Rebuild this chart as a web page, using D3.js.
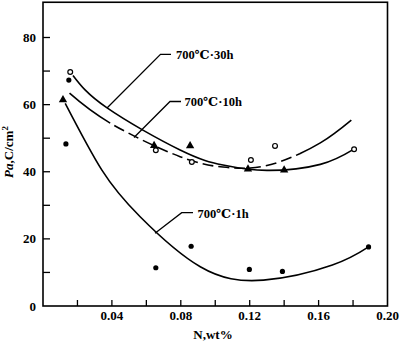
<!DOCTYPE html>
<html><head><meta charset="utf-8">
<script src="https://cdn.jsdelivr.net/npm/d3@7"></script>
<style>body{margin:0;background:#fff}svg{display:block}</style>
</head><body>
<svg id="c" width="400" height="343"></svg>
<script>
// Measured points
const pts1h = [[0.0133,48.3],[0.015,67.3],[0.0655,11.4],[0.086,17.8],[0.1198,10.9],[0.139,10.3],[0.189,17.6]];
const pts30h = [[0.0158,69.7],[0.0655,46.4],[0.0864,42.9],[0.1207,43.5],[0.1347,47.7],[0.1806,46.7]];
const pts10h = [[0.0116,61.4],[0.0645,47.8],[0.0854,47.7],[0.119,40.8],[0.140,40.5]];
// Fitted curves
const fit1h = [[0.0129,60.4],[0.0342,40.5],[0.0564,26.6],[0.0913,11.7],[0.128,7.7],[0.168,12.2],[0.189,17.6]];
const fit30h = [[0.0174,68.7],[0.037,59.1],[0.0796,46.5],[0.1045,42.0],[0.13,40.4],[0.161,42.2],[0.18,46.6]];
const fit10h = [[0.0154,63.4],[0.039,54.5],[0.0796,44.5],[0.1045,41.4],[0.12,41.1],[0.1377,43.0],[0.161,48.6],[0.179,55.4]];
const dashFrom = 0.039, dashTo = 0.149;
const xTicks = [0.02,0.04,0.06,0.08,0.10,0.12,0.14,0.16,0.18];
const xLabels = [0.04,0.08,0.12,0.16,0.20];
const yTicks = [10,20,30,40,50,60,70,80];
const yLabels = [0,20,40,60,80];

const svg = d3.select("#c");
const x = d3.scaleLinear().domain([0,0.2]).range([43,387.5]);
const y = d3.scaleLinear().domain([0,80]).range([306,37.5]);
const font = "'Liberation Serif','DejaVu Serif',serif";

svg.append("rect").attr("x",x(0)).attr("y",y(90.5)).attr("width",x(0.2)-x(0)).attr("height",y(0)-y(90.5))
  .attr("fill","none").attr("stroke","#000").attr("stroke-width",1.6);

svg.selectAll(".xt").data(xTicks).join("line").attr("x1",d=>x(d)).attr("x2",d=>x(d))
  .attr("y1",y(0)).attr("y2",y(0)-6).attr("stroke","#000").attr("stroke-width",1.3);
svg.selectAll(".yt").data(yTicks).join("line").attr("x1",x(0)).attr("x2",x(0)+7)
  .attr("y1",d=>y(d)).attr("y2",d=>y(d)).attr("stroke","#000").attr("stroke-width",1.3);

svg.selectAll(".xl").data(xLabels).join("text").attr("x",d=>x(d)).attr("y",320)
  .attr("text-anchor","middle").attr("font-family",font).attr("font-weight","bold").attr("font-size",13)
  .text(d=>d3.format(".2f")(d));
svg.selectAll(".yl").data(yLabels).join("text").attr("x",36).attr("y",d=>y(d)+4.5)
  .attr("text-anchor","end").attr("font-family",font).attr("font-weight","bold").attr("font-size",13)
  .text(d=>d);
svg.append("text").attr("x",213).attr("y",339).attr("text-anchor","middle")
  .attr("font-family",font).attr("font-weight","bold").attr("font-size",13).text("N,wt%");
const yt = svg.append("text").attr("transform","translate(13,152) rotate(-90)").attr("text-anchor","middle")
  .attr("font-family",font).attr("font-weight","bold").attr("font-size",13);
yt.append("tspan").attr("font-style","italic").text("Pa");
yt.append("tspan").text(",C/cm");
yt.append("tspan").attr("font-size",9).attr("dy",-5).text("2");

const line = d3.line().x(d=>x(d[0])).y(d=>y(d[1])).curve(d3.curveNatural);
function path(data){
  return svg.append("path").attr("d",line(data)).attr("fill","none").attr("stroke","#000")
    .attr("stroke-width",1.6);
}
path(fit1h); path(fit30h);
const p10 = path(fit10h);
(function(){
  const node = p10.node(), L = node.getTotalLength();
  function lenAt(xv){
    let lo=0, hi=L;
    for(let i=0;i<40;i++){const m=(lo+hi)/2; if(node.getPointAtLength(m).x < x(xv)) lo=m; else hi=m;}
    return lo;
  }
  const a = lenAt(dashFrom), b = lenAt(dashTo);
  const arr = [a];
  let pos = a, gap = true;
  while(pos < b){
    const seg = gap ? 5 : 11;
    const s = Math.min(seg, b-pos);
    arr.push(s); pos += s; gap = !gap;
  }
  if(gap){ arr.push(0); }
  arr.push(L - pos + 10, 0);
  p10.attr("stroke-dasharray", arr.join(","));
})();

function ann(pts,tx,ty,label){
  svg.append("polyline").attr("points",pts.map(p=>p.join(",")).join(" "))
    .attr("fill","none").attr("stroke","#000").attr("stroke-width",1.3);
  svg.append("text").attr("x",tx).attr("y",ty).attr("font-family",font).attr("font-weight","bold")
    .attr("font-size",12.5).text(label);
}
ann([[107,108],[160.5,54.3],[171,54.3]],176,59,"700℃·30h");
ann([[134,137.5],[170,101.5],[181,101.5]],184.5,106,"700℃·10h");
ann([[155,233.3],[181.7,212.7],[193,212.7]],197.5,217.5,"700℃·1h");

svg.selectAll(".p1").data(pts1h).join("circle").attr("cx",d=>x(d[0])).attr("cy",d=>y(d[1]))
  .attr("r",2.6).attr("fill","#000");
svg.selectAll(".p30").data(pts30h).join("circle").attr("cx",d=>x(d[0])).attr("cy",d=>y(d[1]))
  .attr("r",2.4).attr("fill","#fff").attr("stroke","#000").attr("stroke-width",1.2);
const tri = d3.symbol().type(d3.symbolTriangle).size(30);
svg.selectAll(".p10").data(pts10h).join("path").attr("d",tri)
  .attr("transform",d=>`translate(${x(d[0])},${y(d[1])})`).attr("fill","#000");
</script>
</body></html>
